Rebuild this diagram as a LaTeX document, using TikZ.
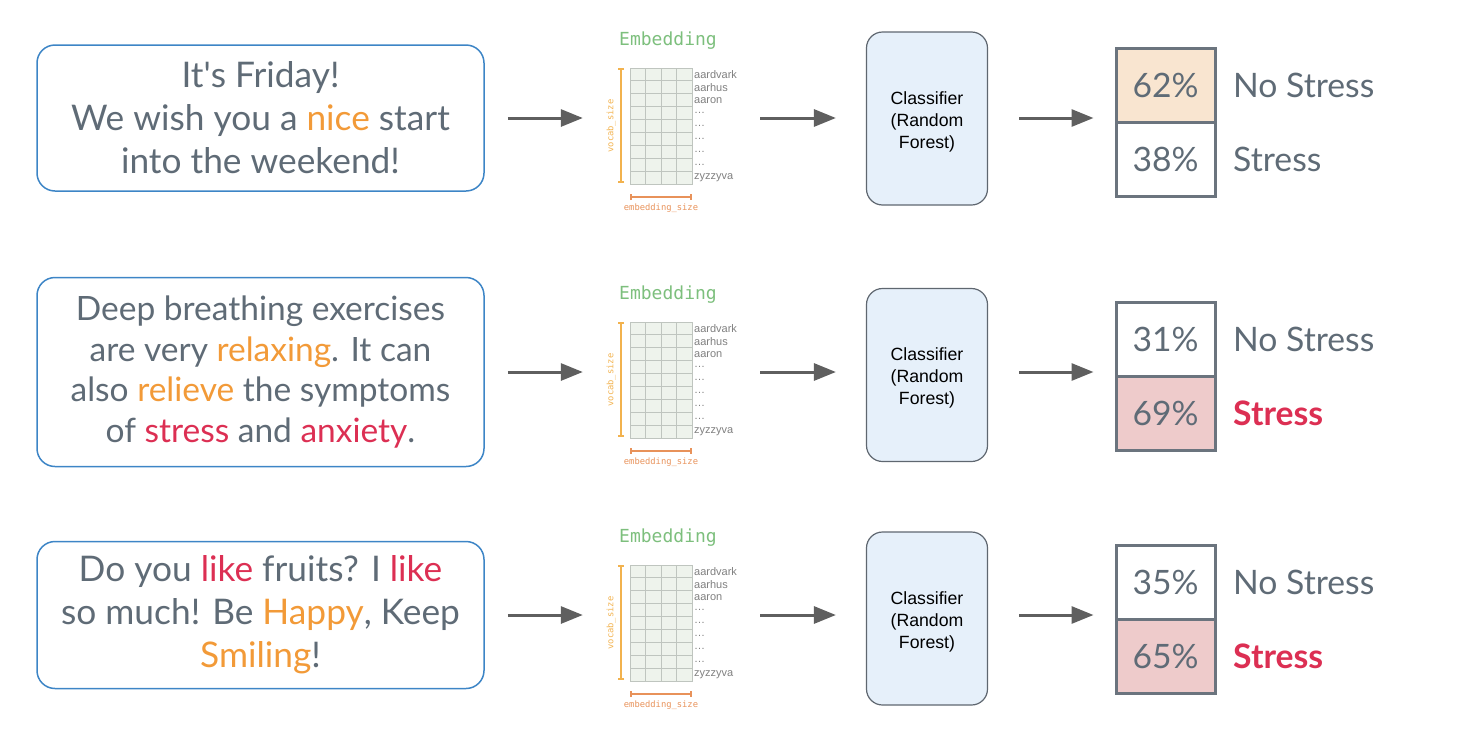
\documentclass[tikz,border=0pt]{standalone}
\usepackage{fontspec}
\setmainfont{Lato}
\newfontfamily\clsfont{Liberation Sans}
\newfontfamily\embfont{DejaVu Sans Mono}
\usetikzlibrary{arrows.meta}

\definecolor{txtgray}{HTML}{5F6B76}
\definecolor{hlorange}{HTML}{F29A38}
\definecolor{hlred}{HTML}{DC2F53}
\definecolor{boxblue}{HTML}{3D85C6}
\definecolor{clsfill}{HTML}{E6F0FA}
\definecolor{clsdraw}{HTML}{5F6770}
\definecolor{pctdraw}{HTML}{6B747E}
\definecolor{pctorange}{HTML}{F9E5D0}
\definecolor{pctred}{HTML}{EECBCB}
\definecolor{embgreen}{HTML}{7DBF7D}
\definecolor{gridfill}{HTML}{EEF3EC}
\definecolor{gridline}{HTML}{BFC5BF}
\definecolor{vocaborange}{HTML}{F2B24E}
\definecolor{embszorange}{HTML}{E8925A}
\definecolor{arrowgray}{HTML}{5F5F5F}

\newcommand{\hlo}[1]{\textcolor{hlorange}{#1}}
\newcommand{\hlr}[1]{\textcolor{hlred}{#1}}

\tikzset{
  msgbox/.style={draw=boxblue, line width=1.5pt, rounded corners=18pt, minimum width=447pt,
    align=center, text=txtgray, inner sep=0pt, font=\fontsize{35.3}{43}\selectfont},
  clsbox/.style={draw=clsdraw, line width=1.2pt, fill=clsfill, rounded corners=16pt,
    minimum width=121pt, minimum height=173pt},
  clstext/.style={align=center, font=\clsfont\fontsize{17.7}{22}\selectfont},
  pctcell/.style={draw=pctdraw, line width=3pt, minimum width=99pt, minimum height=74pt,
    text=txtgray, font=\fontsize{33.6}{38}\selectfont},
  classlabel/.style={anchor=west, inner sep=0pt, text=txtgray, font=\fontsize{33.7}{38}\selectfont},
  stresslabel/.style={classlabel, text=hlred, font=\bfseries\fontsize{33.7}{38}\selectfont},
  flow/.style={draw=arrowgray, line width=3pt, -{Triangle[length=22pt,width=17pt]}},
}

% embedding matrix: #1 = row name, #2 = row centre y
\newcommand{\embedblock}[2]{
  \node[minimum width=140pt, minimum height=180pt, inner sep=0pt] (emb#1) at (670,#2) {};
  \node[text=embgreen, font=\embfont\fontsize{18}{20}\selectfont] (embt#1) at (668,#2-77) {Embedding};
  \draw[gridline, line width=0.8pt, fill=gridfill] (630,#2-50) rectangle (692,#2+66);
  \foreach \i in {1,...,3}
    \draw[gridline, line width=0.8pt] (630+15.5*\i,#2-50) -- ++(0,116);
  \foreach \j in {1,...,8}
    \draw[gridline, line width=0.8pt] (630,#2-50+12.89*\j) -- ++(62,0);
  \foreach \w [count=\k] in {aardvark,aarhus,aaron,\ldots,\ldots,\ldots,\ldots,\ldots,zyzzyva}
    \node[anchor=west, inner sep=0pt, text=gray, font=\clsfont\fontsize{11}{12}\selectfont]
      at (694,#2-50+12.89*\k-6.45) {\w};
  \draw[vocaborange, line width=1.6pt, {Bar[width=6pt]}-{Bar[width=6pt]}] (621,#2-50) -- (621,#2+65);
  \node[rotate=90, text=vocaborange, font=\embfont\fontsize{8.8}{9}\selectfont] at (611,#2+8) {vocab\_size};
  \draw[embszorange, line width=1.6pt, {Bar[width=6pt]}-{Bar[width=6pt]}] (630,#2+79) -- (692,#2+79);
  \node[text=embszorange, font=\embfont\fontsize{8.8}{9}\selectfont] at (661,#2+90) {embedding\_size};
}

\begin{document}
\begin{tikzpicture}[x=1pt, y=-1pt]
\useasboundingbox (0,0) rectangle (1472,734);

% row 1
\node[msgbox, minimum height=146pt] (txt1) at (260.5,118)
  {It\textquotesingle s Friday!\\ We wish you a \hlo{nice} start\\ into the weekend!};
\embedblock{1}{118}
\node[clsbox] (cls1) at (927,118.5) {};
\node[clstext, yshift=-3pt] (clst1) at (cls1.center) {Classifier\\ (Random\\ Forest)};
\node[pctcell, fill=pctorange] (pa1) at (1165.5,85) {62\%};
\node[pctcell] (pb1) at (1165.5,159) {38\%};
\node[classlabel] (la1) at (1233,85) {No Stress};
\node[classlabel] (lb1) at (1233,159) {Stress};
\draw[flow, shorten <=23pt, shorten >=17pt] (txt1.east) -- (emb1.west |- txt1.east);
\draw[flow, shorten <=20pt, shorten >=30pt] (emb1.east |- txt1.east) -- (cls1.west |- txt1.east);
\draw[flow, shorten <=31pt, shorten >=21pt] (cls1.east |- txt1.east) -- (pa1.west |- txt1.east);

% row 2
\node[msgbox, minimum height=189pt, font=\fontsize{33.5}{40.5}\selectfont] (txt2) at (260.5,372)
  {Deep breathing exercises\\ are very \hlo{relaxing}. It can\\ also \hlo{relieve} the symptoms\\ of \hlr{stress} and \hlr{anxiety}.};
\embedblock{2}{372}
\node[clsbox] (cls2) at (927,375) {};
\node[clstext, yshift=-3pt] (clst2) at (cls2.center) {Classifier\\ (Random\\ Forest)};
\node[pctcell] (pa2) at (1165.5,339) {31\%};
\node[pctcell, fill=pctred] (pb2) at (1165.5,413) {69\%};
\node[classlabel] (la2) at (1233,339) {No Stress};
\node[stresslabel] (lb2) at (1233,413) {Stress};
\draw[flow, shorten <=23pt, shorten >=17pt] (txt2.east) -- (emb2.west |- txt2.east);
\draw[flow, shorten <=20pt, shorten >=30pt] (emb2.east |- txt2.east) -- (cls2.west |- txt2.east);
\draw[flow, shorten <=31pt, shorten >=21pt] (cls2.east |- txt2.east) -- (pa2.west |- txt2.east);

% row 3
\node[msgbox, minimum height=147pt] (txt3) at (260.5,615)
  {Do you \hlr{like} fruits? I \hlr{like}\\ so much! Be \hlo{Happy}, Keep\\ \hlo{Smiling}!};
\embedblock{3}{615}
\node[clsbox] (cls3) at (927,618.5) {};
\node[clstext, yshift=-3pt] (clst3) at (cls3.center) {Classifier\\ (Random\\ Forest)};
\node[pctcell] (pa3) at (1165.5,582) {35\%};
\node[pctcell, fill=pctred] (pb3) at (1165.5,656) {65\%};
\node[classlabel] (la3) at (1233,582) {No Stress};
\node[stresslabel] (lb3) at (1233,656) {Stress};
\draw[flow, shorten <=23pt, shorten >=17pt] (txt3.east) -- (emb3.west |- txt3.east);
\draw[flow, shorten <=20pt, shorten >=30pt] (emb3.east |- txt3.east) -- (cls3.west |- txt3.east);
\draw[flow, shorten <=31pt, shorten >=21pt] (cls3.east |- txt3.east) -- (pa3.west |- txt3.east);
\end{tikzpicture}
\end{document}
